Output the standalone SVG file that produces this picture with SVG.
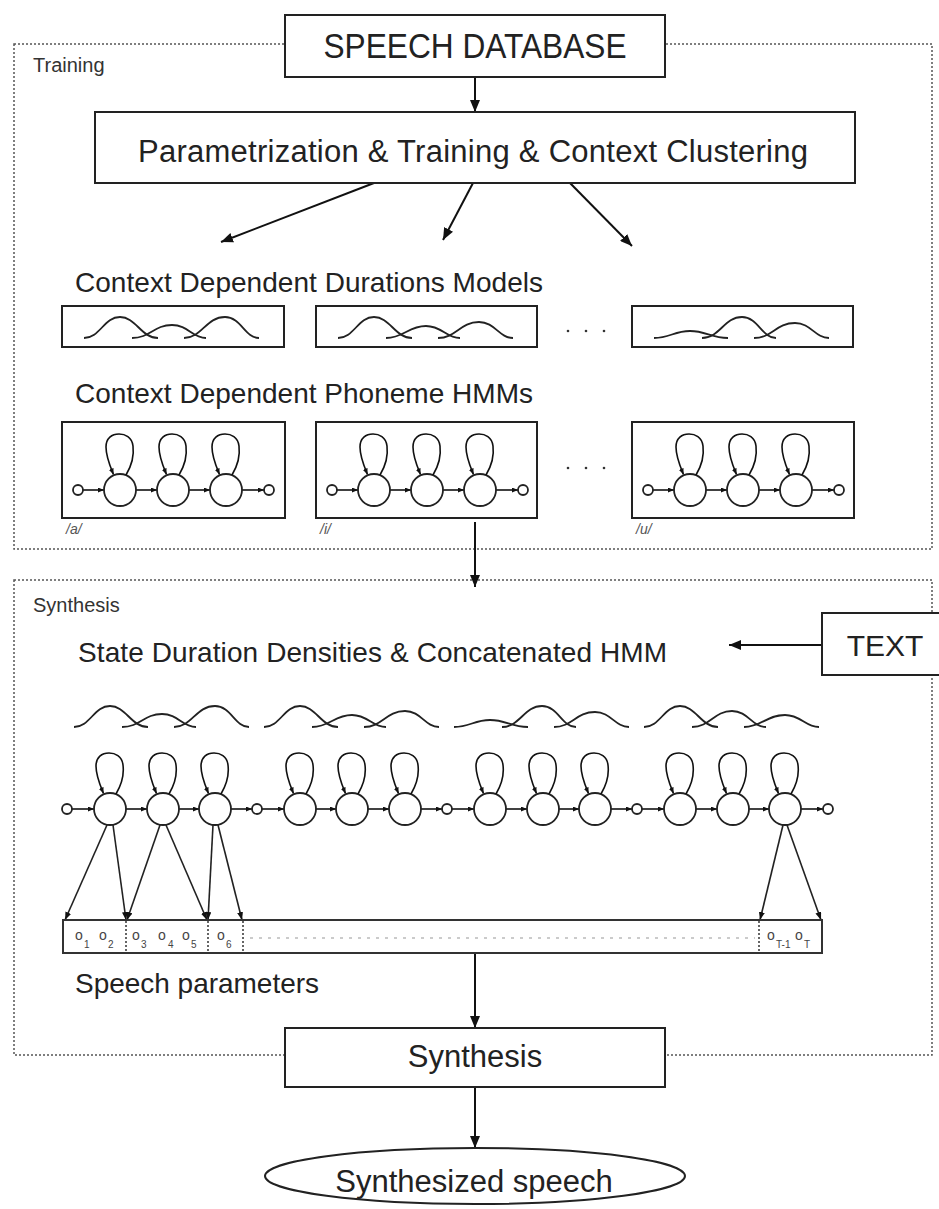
<svg xmlns="http://www.w3.org/2000/svg" xmlns:xlink="http://www.w3.org/1999/xlink" width="939" height="1209" viewBox="0 0 939 1209">
<style>
.box{fill:#fff;stroke:#222;stroke-width:2}
.dash{fill:none;stroke:#555;stroke-width:1.5;stroke-dasharray:2 2}
.lbl{font-family:"Liberation Sans",Arial,sans-serif;fill:#222}
.sm{font-family:"Liberation Sans",Arial,sans-serif;fill:#333;font-size:20px}
.ph{font-family:"Liberation Sans",Arial,sans-serif;fill:#555;font-size:14px;font-style:italic}
.obs{font-family:"Liberation Sans",Arial,sans-serif;fill:#444;font-size:14px}
.sub{font-family:"Liberation Sans",Arial,sans-serif;fill:#444;font-size:10px}
.arr{fill:none;stroke:#111;stroke-width:2;marker-end:url(#ah)}
.tr{fill:none;stroke:#111;stroke-width:1.6;marker-end:url(#sa)}
.oa{fill:none;stroke:#222;stroke-width:1.6;marker-end:url(#ma)}
.g{fill:none;stroke:#222;stroke-width:1.8}
.st{fill:#fff;stroke:#222;stroke-width:1.8}
.div{stroke:#333;stroke-width:1.5;stroke-dasharray:2 2}
</style>
<defs>
<marker id="ah" viewBox="0 0 12 10" refX="12" refY="5" markerWidth="12" markerHeight="10" markerUnits="userSpaceOnUse" orient="auto"><path d="M0,0 L12,5 L0,10 z" fill="#111"/></marker>
<marker id="sa" viewBox="0 0 6 5" refX="6" refY="2.5" markerWidth="6" markerHeight="5" markerUnits="userSpaceOnUse" orient="auto"><path d="M0,0 L6,2.5 L0,5 z" fill="#111"/></marker>
<marker id="ma" viewBox="0 0 8 6" refX="8" refY="3" markerWidth="8" markerHeight="6" markerUnits="userSpaceOnUse" orient="auto"><path d="M0,0 L8,3 L0,6 z" fill="#111"/></marker>
<g id="state">
<circle r="16" class="st"/>
<path class="tr" d="M6,-15 C12,-25 14,-36 13,-44 C12,-53 5,-56 -1,-56 C-8,-56 -14,-52 -14,-43 C-14,-33 -10,-24 -6.5,-15.5"/>
</g>
<circle id="end" r="5" class="st"/>
</defs>

<g id="training-frame">
<rect class="dash" x="14" y="44" width="918" height="505"/>
<text class="sm" x="33" y="72">Training</text>
</g>
<g id="synthesis-frame">
<rect class="dash" x="14" y="580" width="918" height="475"/>
<text class="sm" x="33" y="612">Synthesis</text>
</g>

<g id="connectors">
<line class="arr" x1="475" y1="77" x2="475" y2="112"/>
<line class="arr" x1="374" y1="183" x2="221" y2="242"/>
<line class="arr" x1="473" y1="183" x2="443" y2="240"/>
<line class="arr" x1="570" y1="183" x2="632" y2="246"/>
<line class="arr" x1="475" y1="522" x2="475" y2="587"/>
<line class="arr" x1="822" y1="645" x2="729" y2="645"/>
<line class="arr" x1="475" y1="953" x2="475" y2="1028"/>
<line class="arr" x1="475" y1="1087" x2="475" y2="1148"/>
<line class="oa" x1="107" y1="825" x2="65" y2="920"/>
<line class="oa" x1="113" y1="825" x2="126" y2="920"/>
<line class="oa" x1="160" y1="825" x2="127" y2="920"/>
<line class="oa" x1="166" y1="825" x2="207" y2="920"/>
<line class="oa" x1="213" y1="825" x2="208" y2="920"/>
<line class="oa" x1="218" y1="825" x2="242" y2="920"/>
<line class="oa" x1="783" y1="825" x2="760" y2="920"/>
<line class="oa" x1="787" y1="825" x2="821" y2="920"/>
</g>

<g id="speech-database">
<rect class="box" x="285" y="15" width="380" height="62"/>
<text class="lbl" x="475" y="58" font-size="35" text-anchor="middle" textLength="303" lengthAdjust="spacingAndGlyphs">SPEECH DATABASE</text>
</g>

<g id="param-training">
<rect class="box" x="95" y="112" width="760" height="71"/>
<text class="lbl" x="473" y="162" font-size="31" text-anchor="middle" textLength="670">Parametrization &amp; Training &amp; Context Clustering</text>
</g>

<g id="duration-models">
<text class="lbl" x="75" y="292" font-size="28" textLength="468">Context Dependent Durations Models</text>
<rect class="box" x="62" y="306" width="222" height="41"/>
<rect class="box" x="316" y="306" width="221" height="41"/>
<rect class="box" x="632" y="306" width="221" height="41"/>
<g transform="translate(120,338)">
<path class="g" d="M-36,0 C-20,0 -16,-21 0,-21 C16,-21 21,0 38,0"/>
<path class="g" d="M12,0 C30,0 34,-13 52,-13 C68,-13 72,0 86,0"/>
<path class="g" d="M64,0 C82,0 86,-21 105,-21 C121,-21 125,0 139,0"/>
</g>
<g transform="translate(374,338)">
<path class="g" d="M-36,0 C-20,0 -16,-21 0,-21 C16,-21 21,0 38,0"/>
<path class="g" d="M12,0 C30,0 34,-12 52,-12 C68,-12 72,0 86,0"/>
<path class="g" d="M64,0 C82,0 86,-16 105,-16 C121,-16 125,0 139,0"/>
</g>
<g transform="translate(690,338)">
<path class="g" d="M-36,0 C-20,0 -16,-7 0,-7 C16,-7 21,0 38,0"/>
<path class="g" d="M12,0 C30,0 34,-21 52,-21 C68,-21 72,0 86,0"/>
<path class="g" d="M64,0 C82,0 86,-15 105,-15 C121,-15 125,0 139,0"/>
</g>
<g fill="#333"><circle cx="568" cy="331" r="1.3"/><circle cx="586" cy="331" r="1.3"/><circle cx="604" cy="331" r="1.3"/></g>
</g>

<g id="phoneme-hmms">
<text class="lbl" x="75" y="403" font-size="28" textLength="458">Context Dependent Phoneme HMMs</text>
<rect class="box" x="62" y="422" width="223" height="96"/>
<rect class="box" x="316" y="422" width="221" height="96"/>
<rect class="box" x="632" y="422" width="222" height="96"/>
<g id="hmm-a">
<line class="tr" x1="83" y1="490" x2="104" y2="490"/>
<line class="tr" x1="136" y1="490" x2="157" y2="490"/>
<line class="tr" x1="189" y1="490" x2="210" y2="490"/>
<line class="tr" x1="242" y1="490" x2="264" y2="490"/>
<use xlink:href="#end" x="78" y="490"/>
<use xlink:href="#state" x="120" y="490"/>
<use xlink:href="#state" x="173" y="490"/>
<use xlink:href="#state" x="226" y="490"/>
<use xlink:href="#end" x="269" y="490"/>
</g>
<g id="hmm-i">
<line class="tr" x1="337" y1="490" x2="358" y2="490"/>
<line class="tr" x1="390" y1="490" x2="411" y2="490"/>
<line class="tr" x1="443" y1="490" x2="464" y2="490"/>
<line class="tr" x1="496" y1="490" x2="518" y2="490"/>
<use xlink:href="#end" x="332" y="490"/>
<use xlink:href="#state" x="374" y="490"/>
<use xlink:href="#state" x="427" y="490"/>
<use xlink:href="#state" x="480" y="490"/>
<use xlink:href="#end" x="523" y="490"/>
</g>
<g id="hmm-u">
<line class="tr" x1="653" y1="490" x2="674" y2="490"/>
<line class="tr" x1="706" y1="490" x2="727" y2="490"/>
<line class="tr" x1="759" y1="490" x2="780" y2="490"/>
<line class="tr" x1="812" y1="490" x2="834" y2="490"/>
<use xlink:href="#end" x="648" y="490"/>
<use xlink:href="#state" x="690" y="490"/>
<use xlink:href="#state" x="743" y="490"/>
<use xlink:href="#state" x="796" y="490"/>
<use xlink:href="#end" x="839" y="490"/>
</g>
<g fill="#333"><circle cx="568" cy="468" r="1.3"/><circle cx="586" cy="468" r="1.3"/><circle cx="604" cy="468" r="1.3"/></g>
<text class="ph" x="66" y="534">/a/</text>
<text class="ph" x="320" y="534">/i/</text>
<text class="ph" x="636" y="534">/u/</text>
</g>

<g id="text-input">
<rect class="box" x="822" y="613" width="125" height="62"/>
<text class="lbl" x="885" y="656" font-size="30" text-anchor="middle">TEXT</text>
</g>

<g id="concatenated-hmm">
<text class="lbl" x="78" y="662" font-size="28" textLength="589">State Duration Densities &amp; Concatenated HMM</text>
<g transform="translate(110,727)">
<path class="g" d="M-36,0 C-20,0 -16,-21 0,-21 C16,-21 21,0 38,0"/>
<path class="g" d="M12,0 C30,0 34,-13 52,-13 C68,-13 72,0 86,0"/>
<path class="g" d="M64,0 C82,0 86,-21 105,-21 C121,-21 125,0 139,0"/>
</g>
<g transform="translate(300,727)">
<path class="g" d="M-36,0 C-20,0 -16,-21 0,-21 C16,-21 21,0 38,0"/>
<path class="g" d="M12,0 C30,0 34,-12 52,-12 C68,-12 72,0 86,0"/>
<path class="g" d="M64,0 C82,0 86,-16 105,-16 C121,-16 125,0 139,0"/>
</g>
<g transform="translate(490,727)">
<path class="g" d="M-36,0 C-20,0 -16,-7 0,-7 C16,-7 21,0 38,0"/>
<path class="g" d="M12,0 C30,0 34,-21 52,-21 C68,-21 72,0 86,0"/>
<path class="g" d="M64,0 C82,0 86,-15 105,-15 C121,-15 125,0 139,0"/>
</g>
<g transform="translate(680,727)">
<path class="g" d="M-36,0 C-20,0 -16,-21 0,-21 C16,-21 21,0 38,0"/>
<path class="g" d="M12,0 C30,0 34,-16 52,-16 C68,-16 72,0 86,0"/>
<path class="g" d="M64,0 C82,0 86,-12 105,-12 C121,-12 125,0 139,0"/>
</g>
<g id="chain">
<line class="tr" x1="72" y1="809" x2="94" y2="809"/>
<line class="tr" x1="126" y1="809" x2="147" y2="809"/>
<line class="tr" x1="179" y1="809" x2="199" y2="809"/>
<line class="tr" x1="231" y1="809" x2="252" y2="809"/>
<line class="tr" x1="262" y1="809" x2="284" y2="809"/>
<line class="tr" x1="316" y1="809" x2="336" y2="809"/>
<line class="tr" x1="368" y1="809" x2="389" y2="809"/>
<line class="tr" x1="421" y1="809" x2="442" y2="809"/>
<line class="tr" x1="452" y1="809" x2="474" y2="809"/>
<line class="tr" x1="506" y1="809" x2="527" y2="809"/>
<line class="tr" x1="559" y1="809" x2="579" y2="809"/>
<line class="tr" x1="611" y1="809" x2="632" y2="809"/>
<line class="tr" x1="642" y1="809" x2="664" y2="809"/>
<line class="tr" x1="696" y1="809" x2="717" y2="809"/>
<line class="tr" x1="749" y1="809" x2="769" y2="809"/>
<line class="tr" x1="801" y1="809" x2="823" y2="809"/>
<use xlink:href="#end" x="67" y="809"/>
<use xlink:href="#state" x="110" y="809"/>
<use xlink:href="#state" x="163" y="809"/>
<use xlink:href="#state" x="215" y="809"/>
<use xlink:href="#end" x="257" y="809"/>
<use xlink:href="#state" x="300" y="809"/>
<use xlink:href="#state" x="352" y="809"/>
<use xlink:href="#state" x="405" y="809"/>
<use xlink:href="#end" x="447" y="809"/>
<use xlink:href="#state" x="490" y="809"/>
<use xlink:href="#state" x="543" y="809"/>
<use xlink:href="#state" x="595" y="809"/>
<use xlink:href="#end" x="637" y="809"/>
<use xlink:href="#state" x="680" y="809"/>
<use xlink:href="#state" x="733" y="809"/>
<use xlink:href="#state" x="785" y="809"/>
<use xlink:href="#end" x="828" y="809"/>
</g>
</g>

<g id="speech-parameters">
<rect x="63" y="920" width="759" height="33" fill="#fff" stroke="#333" stroke-width="2"/>
<line class="div" x1="126" y1="921" x2="126" y2="952"/>
<line class="div" x1="208" y1="921" x2="208" y2="952"/>
<line class="div" x1="243" y1="921" x2="243" y2="952"/>
<line class="div" x1="759" y1="921" x2="759" y2="952"/>
<line x1="250" y1="938" x2="755" y2="938" stroke="#bbb" stroke-width="1.5" stroke-dasharray="3 6"/>
<text class="obs" x="75" y="940">o</text><text class="sub" x="84" y="948">1</text>
<text class="obs" x="99" y="940">o</text><text class="sub" x="108" y="948">2</text>
<text class="obs" x="132" y="940">o</text><text class="sub" x="141" y="948">3</text>
<text class="obs" x="158" y="940">o</text><text class="sub" x="168" y="948">4</text>
<text class="obs" x="182" y="940">o</text><text class="sub" x="191" y="948">5</text>
<text class="obs" x="217" y="940">o</text><text class="sub" x="226" y="948">6</text>
<text class="obs" x="767" y="940">o</text><text class="sub" x="776" y="948">T-1</text>
<text class="obs" x="795" y="940">o</text><text class="sub" x="804" y="948">T</text>
<text class="lbl" x="75" y="993" font-size="28" textLength="244">Speech parameters</text>
</g>

<g id="synthesis">
<rect class="box" x="285" y="1028" width="380" height="59"/>
<text class="lbl" x="475" y="1067" font-size="31" text-anchor="middle">Synthesis</text>
</g>

<g id="synthesized-speech">
<ellipse cx="475" cy="1176" rx="210" ry="28" fill="#fff" stroke="#222" stroke-width="2"/>
<text class="lbl" x="474" y="1192" font-size="31" text-anchor="middle">Synthesized speech</text>
</g>
</svg>
